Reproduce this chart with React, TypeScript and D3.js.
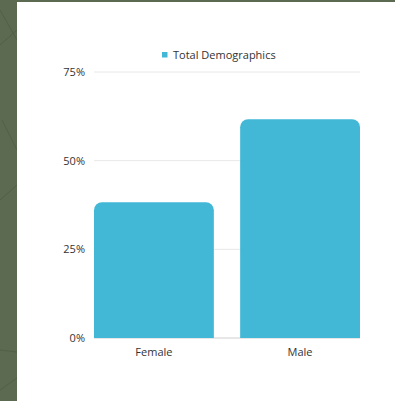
import React from "react";
import * as d3 from "d3";

const categories = ["Female", "Male"];
const values = [38.3, 61.7];
const seriesName = "Total Demographics";
const yTicks = [0, 25, 50, 75];

const W = 395;
const H = 401;
const margin = { left: 94, right: 35, top: 72, bottom: 63 };

export default function App() {
  const x = d3
    .scaleBand<string>()
    .domain(categories)
    .range([margin.left, W - margin.right])
    .paddingInner(0.18)
    .paddingOuter(0);
  const y = d3.scaleLinear().domain([0, 75]).range([H - margin.bottom, margin.top]);
  const r = 8;
  const font = "'Open Sans', 'Noto Sans', sans-serif";

  const barPath = (cat: string, v: number) => {
    const x0 = x(cat)!;
    const w = x.bandwidth();
    const y0 = y(0);
    const y1 = y(v);
    const p = d3.path();
    p.moveTo(x0, y0);
    p.lineTo(x0, y1 + r);
    p.arcTo(x0, y1, x0 + r, y1, r);
    p.lineTo(x0 + w - r, y1);
    p.arcTo(x0 + w, y1, x0 + w, y1 + r, r);
    p.lineTo(x0 + w, y0);
    p.closePath();
    return p.toString();
  };

  return (
    <svg
      width={W}
      height={H}
      style={{ position: "absolute", left: 0, top: 0, display: "block" }}
      fontFamily={font}
    >
      <rect x={0} y={0} width={W} height={H} fill="#5b6a51" />
      <g stroke="#4d5c44" strokeWidth={0.8} fill="none" opacity={0.8}>
        <path d="M0,10 L17,40" />
        <path d="M0,45 L17,30" />
        <path d="M2,120 L17,150" />
        <path d="M0,200 L17,185" />
        <path d="M0,350 L17,352" />
        <path d="M0,390 L17,378" />
      </g>
      <rect x={17} y={2} width={W - 17} height={H - 2} fill="#ffffff" />

      {yTicks.map((t) => (
        <g key={t}>
          <line
            x1={margin.left}
            x2={W - margin.right}
            y1={y(t)}
            y2={y(t)}
            stroke={t === 0 ? "#cfcfcf" : "#e8e8e8"}
            strokeWidth={1}
          />
          <text
            x={85}
            y={y(t)}
            dy="0.35em"
            textAnchor="end"
            fontSize={11}
            fill="#333"
          >
            {t}%
          </text>
        </g>
      ))}

      {categories.map((c, i) => (
        <path key={c} d={barPath(c, values[i])} fill="#42b8d6" />
      ))}

      {categories.map((c) => (
        <text
          key={c}
          x={x(c)! + x.bandwidth() / 2}
          y={y(0) + 14}
          dy="0.35em"
          textAnchor="middle"
          fontSize={11}
          fill="#333"
        >
          {c}
        </text>
      ))}

      <rect x={162} y={52} width={5.5} height={5.5} fill="#42b8d6" />
      <text x={173} y={55} dy="0.35em" fontSize={11} fill="#333">
        {seriesName}
      </text>
    </svg>
  );
}
